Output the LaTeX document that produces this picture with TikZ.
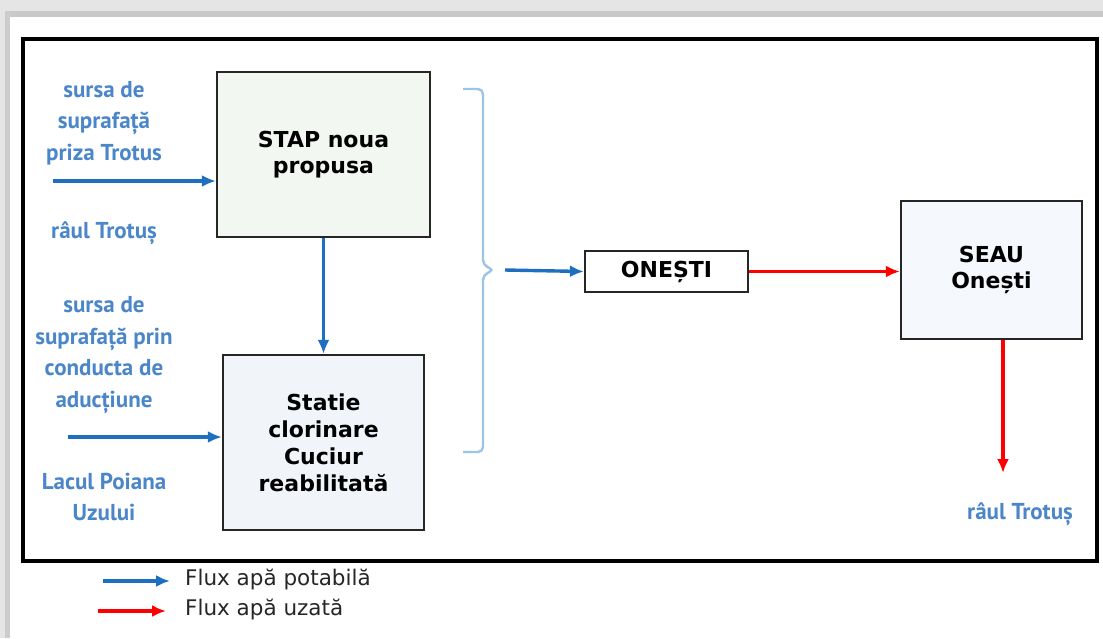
\documentclass[tikz,border=0pt]{standalone}
\usepackage{fontspec}
\setmainfont{DejaVu Sans}
\newfontfamily\lblfont{PT Sans}
\usetikzlibrary{arrows.meta}
\definecolor{flowblue}{HTML}{1F6FC0}
\definecolor{lblblue}{HTML}{4A86C8}
\definecolor{braceblue}{HTML}{9DC3E6}
\definecolor{boxgreen}{HTML}{F2F7F1}
\definecolor{boxblue}{HTML}{F1F5F9}
\definecolor{boxblue2}{HTML}{F5F8FC}
\tikzset{
  box/.style={draw=black!85, line width=2.2pt, align=center, font=\bfseries\fontsize{22}{26}\selectfont, inner sep=0pt},
  lbl/.style={text=lblblue, align=center, font=\lblfont\bfseries\fontsize{23}{31.5}\selectfont, inner sep=0pt},
  flow/.style={draw=flowblue, line width=3.4pt, -{Latex[length=14pt,width=12pt]}},
  waste/.style={draw=red, line width=3.2pt, -{Latex[length=14pt,width=12pt]}},
  legtext/.style={anchor=west, font=\fontsize{21.5}{22}\selectfont, text=black!85, inner sep=0pt}
}
\begin{document}
\begin{tikzpicture}[x=1pt,y=-1pt]
\useasboundingbox (0,0) rectangle (1103,638);
% screenshot shadow frame
\fill[white] (0,0) rectangle (1103,638);
\fill[gray!20] (0,0) rectangle (1103,17);
\fill[gray!42] (0,11) rectangle (1103,17);
\fill[gray!20] (0,0) rectangle (10,638);
\fill[gray!40] (5,11) rectangle (10,638);
% outer frame
\draw[line width=3.6pt] (23,39) rectangle (1097,561);
% boxes
\node[box, fill=boxgreen, minimum width=213pt, minimum height=165pt] (stap) at (323.5,154.5) {STAP noua\\propusa};
\node[box, fill=boxblue, minimum width=201pt, minimum height=175pt, font=\bfseries\fontsize{22}{27}\selectfont] (stat) at (323.5,442.5) {Statie\\clorinare\\Cuciur\\reabilitată};
\node[box, fill=white, minimum width=163pt, minimum height=41pt] (ones) at (666.5,271.5) {ONEȘTI};
\node[box, fill=boxblue2, minimum width=181pt, minimum height=138pt] (seau) at (991.5,270) {SEAU\\Onești};
% labels
\node[lbl] (l1) at (104,123) {sursa de\\suprafață\\priza Trotus};
\node[lbl] (l2) at (104,233) {râul Trotuș};
\node[lbl] (l3) at (104,355) {sursa de\\suprafață prin\\conducta de\\aducțiune};
\node[lbl] (l4) at (104,497) {Lacul Poiana\\Uzului};
\node[lbl] (l5) at (1020,514) {râul Trotuș};
% inflow coordinates
\coordinate (in1) at (53,181);
\coordinate (in2) at (68,437);
\draw[flow] (in1) -- (in1 -| stap.west);
\draw[flow] (in2) -- (in2 -| stat.west);
\draw[flow] (stap.south) -- (stat.north);
% brace
\coordinate (btip) at (494,270);
\draw[braceblue, line width=2.4pt, rounded corners=5pt] (463,89) -- (483,89) -- (483,265) -- (btip) -- (483,275) -- (483,452) -- (463,452);
\coordinate (bstart) at (505,270);
\draw[flow] (bstart) -- (ones.west);
\draw[waste] (ones.east) -- (ones.east -| seau.west);
\coordinate (outr) at (1003,473);
\draw[waste] (seau.south -| outr) -- (outr);
% legend
\coordinate (lb1) at (103,581);
\coordinate (lb2) at (170,581);
\coordinate (lr1) at (98,611);
\coordinate (lr2) at (166,611);
\draw[flow] (lb1) -- (lb2);
\draw[waste] (lr1) -- (lr2);
\node[legtext] (t1) at (185,580) {Flux apă potabilă};
\node[legtext] (t2) at (185,609) {Flux apă uzată};
\end{tikzpicture}
\end{document}
